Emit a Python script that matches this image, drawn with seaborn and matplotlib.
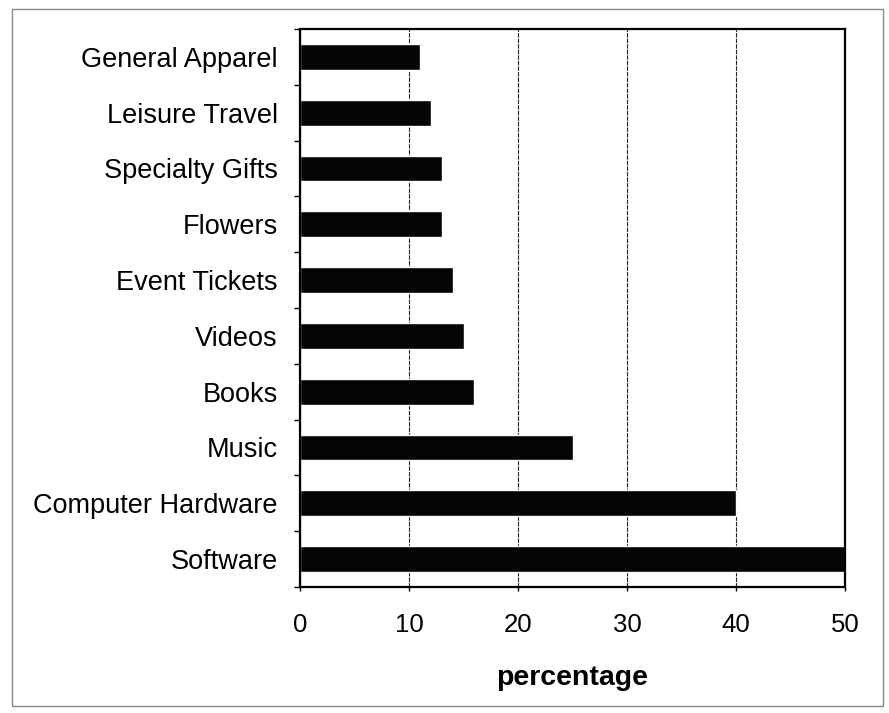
# plot.py
# Horizontal bar chart of online purchase categories (percentage).

import pandas as pd
import matplotlib.pyplot as plt
import seaborn as sns
from matplotlib.patches import Rectangle
from matplotlib.ticker import FixedLocator

categories = ["General Apparel", "Leisure Travel", "Specialty Gifts", "Flowers",
              "Event Tickets", "Videos", "Books", "Music",
              "Computer Hardware", "Software"]
percentages = [11, 12, 13, 13, 14, 15, 16, 25, 40, 50]
x_ticks = [0, 10, 20, 30, 40, 50]


def make_chart():
    df = pd.DataFrame({"category": categories, "percentage": percentages})

    sns.set_style("white")
    plt.rcParams["font.family"] = ["Liberation Sans", "DejaVu Sans"]
    plt.rcParams["text.color"] = "black"
    plt.rcParams["axes.labelcolor"] = "black"
    plt.rcParams["xtick.color"] = "black"
    plt.rcParams["ytick.color"] = "black"

    fig = plt.figure(figsize=(8.89, 7.13), dpi=100)
    ax = fig.add_axes([300 / 889, 1 - 587 / 713, 545 / 889, 558 / 713])

    sns.barplot(data=df, x="percentage", y="category", orient="h",
                color="#050505", saturation=1, width=0.46, ax=ax)

    ax.set_xlim(0, 50)
    ax.set_ylim(len(categories) - 0.5, -0.5)
    ax.set_xticks(x_ticks)
    ax.set_xticklabels([str(t) for t in x_ticks])

    # vertical gridlines behind the bars
    ax.set_axisbelow(True)
    ax.xaxis.grid(True, color="#222222", linewidth=0.8, linestyle=(0, (4, 1)))
    ax.yaxis.grid(False)

    for side in ["left", "right", "top", "bottom"]:
        ax.spines[side].set_visible(True)
        ax.spines[side].set_color("black")
        ax.spines[side].set_linewidth(1.6)

    # category ticks sit between the categories
    ax.yaxis.set_minor_locator(FixedLocator([i - 0.5 for i in range(len(categories) + 1)]))
    ax.tick_params(axis="y", which="major", length=0, pad=16, labelsize=19.5,
                   labelcolor="black")
    ax.tick_params(axis="y", which="minor", left=True, length=4, width=1, direction="out")
    ax.tick_params(axis="x", which="major", bottom=True, length=3, width=1,
                   direction="out", pad=16, labelsize=18.5, labelcolor="black")

    ax.set_ylabel("")
    ax.set_xlabel("percentage", fontsize=20.5, fontweight="bold", labelpad=20,
                  color="black")

    # thin grey frame around the whole chart
    fig.patches.append(Rectangle((12 / 889, 1 - 706 / 713), 871 / 889, 697 / 713,
                                 transform=fig.transFigure, fill=False,
                                 edgecolor="#888888", linewidth=1.0))

    fig.savefig("out.png", dpi=100)
    plt.close(fig)


if __name__ == "__main__":
    make_chart()
